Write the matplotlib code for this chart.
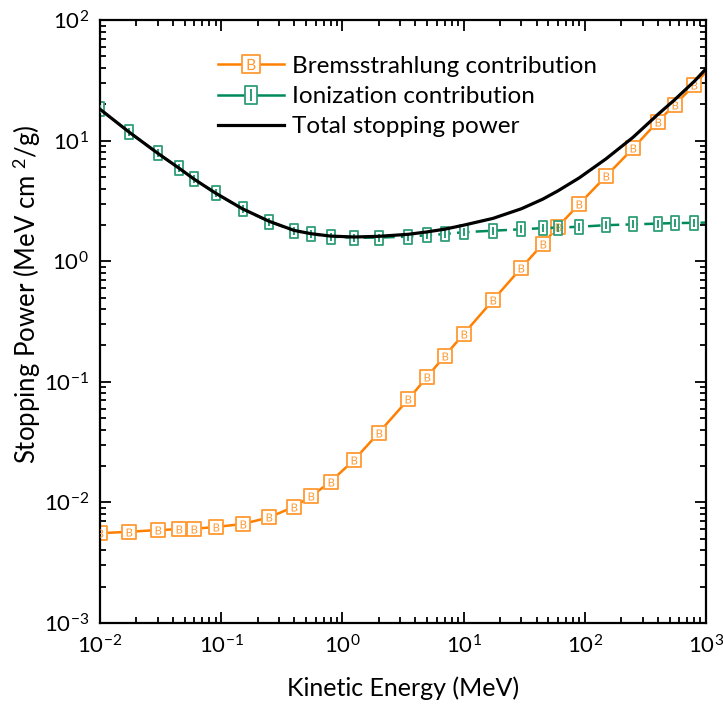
import numpy as np
import matplotlib
matplotlib.use("Agg")
import matplotlib.pyplot as plt
from matplotlib.path import Path
from matplotlib.lines import Line2D
from matplotlib.legend_handler import HandlerTuple
from matplotlib.ticker import LogLocator, LogFormatterMathtext, NullFormatter

plt.rcParams["font.family"] = ["Lato", "DejaVu Sans"]
plt.rcParams["mathtext.fontset"] = "custom"
plt.rcParams["mathtext.rm"] = "Lato"
plt.rcParams["mathtext.it"] = "Lato:italic"
plt.rcParams["mathtext.bf"] = "Lato:bold"

# Electron stopping power components (MeV cm^2/g) vs kinetic energy (MeV)
energy = [0.01, 0.0175, 0.03, 0.045, 0.06, 0.09, 0.15, 0.25, 0.4, 0.55, 0.8,
          1.25, 2, 3.5, 5, 7, 10, 17.5, 30, 45, 60, 90, 150, 250, 400, 550,
          800, 1000]
brems = [0.00555, 0.00571, 0.0059, 0.0060, 0.00605, 0.00625, 0.00662, 0.00752,
         0.00923, 0.0112, 0.0149, 0.0225, 0.0379, 0.0716, 0.110, 0.164, 0.249,
         0.476, 0.883, 1.39, 1.93, 2.98, 5.08, 8.63, 14.4, 19.7, 28.9, 37.3]
ionization = [18.2, 11.7, 7.84, 5.89, 4.77, 3.66, 2.71, 2.13, 1.79, 1.68, 1.60,
              1.565, 1.57, 1.60, 1.64, 1.68, 1.74, 1.79, 1.84, 1.88, 1.90, 1.93,
              1.99, 2.02, 2.05, 2.07, 2.08, 2.09]
total = np.add(brems, ionization)

labels = ["Bremsstrahlung contribution", "Ionization contribution",
          "Total stopping power"]

orange_line = "#ff8000"
orange_mark = "#ff9a33"
green_line = "#008a5c"
green_mark = "#2f9e76"

# box outlines used as markers (letters drawn on top)
box_b = Path([(-0.5, -0.5), (0.5, -0.5), (0.5, 0.5), (-0.5, 0.5), (-0.5, -0.5)],
             [Path.MOVETO, Path.LINETO, Path.LINETO, Path.LINETO, Path.CLOSEPOLY])
box_i = Path([(-0.32, -0.5), (0.32, -0.5), (0.32, 0.5), (-0.32, 0.5), (-0.32, -0.5)],
             [Path.MOVETO, Path.LINETO, Path.LINETO, Path.LINETO, Path.CLOSEPOLY])

fig = plt.figure(figsize=(7.23, 7.13), dpi=100)
ax = fig.add_axes([100 / 723, 1 - 623 / 713, 606 / 723, 603 / 713])

mark_idx = list(range(len(energy) - 1))

ax.plot(energy, brems, color=orange_line, lw=1.8, zorder=2,
        marker=box_b, ms=9.5, mfc="white", mec=orange_mark, mew=1.3,
        markevery=mark_idx)
ax.plot(energy[:-1], brems[:-1], ls="none", marker=r"$\mathrm{B}$", ms=5.8,
        mew=0, color=orange_mark, zorder=3)

ax.plot(energy, ionization, color=green_line, lw=1.8, ls=(0, (5, 2.5)), zorder=2,
        marker=box_i, ms=9.5, mfc="white", mec=green_mark, mew=1.3,
        markevery=mark_idx)
ax.plot(energy[:-1], ionization[:-1], ls="none", marker=r"$\mathrm{I}$", ms=5.8,
        mew=0, color=green_mark, zorder=3)

ax.plot(energy, total, color="black", lw=2.3, zorder=4)

ax.set_xscale("log")
ax.set_yscale("log")
ax.set_xlim(1e-2, 1e3)
ax.set_ylim(1e-3, 1e2)

for axis in (ax.xaxis, ax.yaxis):
    axis.set_major_locator(LogLocator(base=10, numticks=10))
    axis.set_minor_locator(LogLocator(base=10, subs=np.arange(2, 10), numticks=10))
    axis.set_major_formatter(LogFormatterMathtext())
    axis.set_minor_formatter(NullFormatter())

ax.tick_params(which="both", direction="in", top=True, right=True,
               width=1.3, labelsize=16)
ax.tick_params(which="major", length=8, pad=8)
ax.tick_params(which="minor", length=4)
for sp in ax.spines.values():
    sp.set_linewidth(1.6)

ax.set_xlabel("Kinetic Energy (MeV)", fontsize=18, labelpad=14)
ax.set_ylabel("Stopping Power (MeV cm $^{2}$/g)", fontsize=18.5)
ax.yaxis.set_label_coords(-0.094, 0.545)

# legend entries: line + box + letter overlaid
h_b = (Line2D([], [], color=orange_line, lw=1.8, marker=box_b, ms=9.5, mfc="white",
              mec=orange_mark, mew=1.3),
       Line2D([], [], ls="none", marker=r"$\mathrm{B}$", ms=5.8, mew=0,
              color=orange_mark))
h_i = (Line2D([], [], color=green_line, lw=1.8, marker=box_i, ms=9.5, mfc="white",
              mec=green_mark, mew=1.3),
       Line2D([], [], ls="none", marker=r"$\mathrm{I}$", ms=5.8, mew=0,
              color=green_mark))
h_t = Line2D([], [], color="black", lw=2.3)

ax.legend([h_b, h_i, h_t], labels, handler_map={tuple: HandlerTuple(ndivide=1)},
          loc="upper left", bbox_to_anchor=(0.158, 0.977), frameon=False,
          fontsize=17.5, handlelength=2.75, handletextpad=0.33, labelspacing=0.38,
          numpoints=1, markerscale=1.4)

fig.savefig("out.png", dpi=100)
